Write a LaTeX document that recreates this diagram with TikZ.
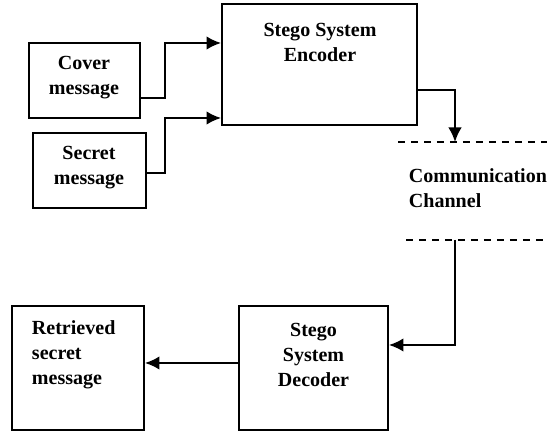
\documentclass[tikz,border=0pt]{standalone}
\usepackage{fontspec}
\setmainfont{Liberation Serif}
\usetikzlibrary{arrows.meta}
\begin{document}
\begin{tikzpicture}[x=0.02cm,y=-0.02cm,>={Latex[length=0.29cm,width=0.27cm]},line width=1.1pt,
  font=\fontsize{11.4}{14.2}\selectfont\bfseries]
\tikzset{box/.style={draw,rectangle,inner sep=0pt},
         txt/.style={inner sep=0pt,align=center}}
\useasboundingbox (0,0) rectangle (547,431);
\coordinate (J1) at (165,98);
\coordinate (J2) at (165,43);
\coordinate (J3) at (165,173);
\coordinate (J4) at (165,118);
\coordinate (J5) at (455,90);
\coordinate (D1) at (455,142);
\coordinate (D2) at (455,240);
\coordinate (J6) at (455,345);
\coordinate (J7) at (190,363);
\coordinate (L1) at (398,142);
\coordinate (R1) at (547,142);
\coordinate (L2) at (406,240);
\coordinate (R2) at (547,240);
\node[box,minimum width=2.22cm,minimum height=1.5cm] (cover) at (84.5,80.5) {};
\node[box,minimum width=2.26cm,minimum height=1.5cm] (secret) at (89.5,170.5) {};
\node[box,minimum width=3.9cm,minimum height=2.42cm] (enc) at (319.5,64.5) {};
\node[box,minimum width=2.64cm,minimum height=2.48cm] (ret) at (78,368) {};
\node[box,minimum width=2.98cm,minimum height=2.48cm] (dec) at (313.5,368) {};
\node[txt] (coverT) at (84,77.5) {Cover\\message};
\node[txt] (secretT) at (89,167.5) {Secret\\message};
\node[txt] (encT) at (320,42.5) {Stego System\\Encoder};
\node[txt,anchor=west,align=left] (chanT) at (408,188.5) {Communication\\Channel};
\node[txt,anchor=west,align=left] (retT) at (31,355) {Retrieved\\secret\\message};
\node[txt] (decT) at (313.5,355) {Stego\\System\\Decoder};
\draw[dashed,line width=0.8pt,dash pattern=on 0.14cm off 0.12cm] (L1) -- (R1);
\draw[dashed,line width=0.8pt,dash pattern=on 0.14cm off 0.12cm] (L2) -- (R2);
\draw[->] (cover.east |- J1) -- (J1) -- (J2) -- (enc.west |- J2);
\draw[->] (secret.east |- J3) -- (J3) -- (J4) -- (enc.west |- J4);
\draw[->] (enc.east |- J5) -- (J5) -- (D1);
\draw[->] (D2) -- (J6) -- (dec.east |- J6);
\draw[->] (dec.west |- J7) -- (ret.east |- J7);
\end{tikzpicture}
\end{document}
